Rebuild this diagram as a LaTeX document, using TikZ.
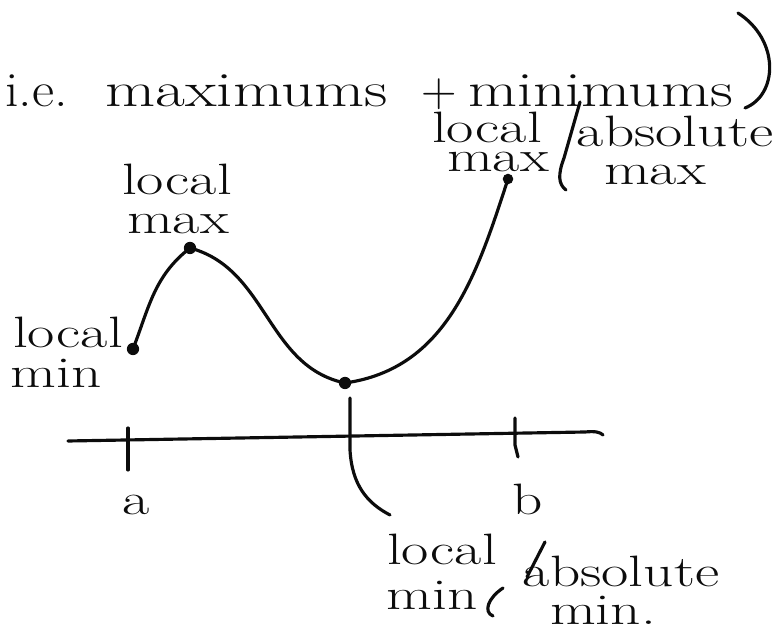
\documentclass[tikz,border=0pt]{standalone}
\usepackage{graphicx}
\usepackage{tikz}
\usetikzlibrary{positioning}
\definecolor{inkblack}{RGB}{12,12,12}
\newcommand{\scrawl}[1]{\scalebox{1.35}[1]{#1}}

\begin{document}
\begin{tikzpicture}[x=0.02cm, y=0.02cm,
  hand/.style={font=\fontsize{25}{29}\selectfont, text=inkblack, inner sep=0pt, anchor=base},
  headw/.style={font=\fontsize{28}{32}\selectfont, text=inkblack, inner sep=0pt, anchor=base west},
  pt/.style={circle, fill=inkblack, minimum size=7pt, inner sep=0pt},
  ink/.style={line width=1.8pt, draw=inkblack, line cap=round, line join=round}
]
  \useasboundingbox (0,0) rectangle (775,-634);
  % heading
  \node[headw] (head1) at (5,-107) {\scalebox{1.1}[1]{i.e.}};
  \node[headw] (head2) at (105,-107) {\scalebox{1.32}[1]{maximums}};
  \node[headw] (head3) at (421,-107) {+};
  \node[headw] (head4) at (468,-107) {\scalebox{1.29}[1]{minimums}};
  \draw[ink] (738,-13) .. controls (780,-40) and (778,-95) .. (745,-108);

  % the function and its extrema
  \node[pt] (p0) at (133,-349) {};
  \node[pt] (p1) at (190,-248) {};
  \node[pt] (p2) at (345,-383) {};
  \node[pt, minimum size=6pt] (p3) at (508,-179) {};
  \draw[ink] (p0.center) to[out=69,in=218] (p1.center) to[out=-15,in=168] (p2.center)
    to[out=8,in=252] (p3.center);

  % axis with a and b
  \coordinate (axl) at (68,-441);
  \coordinate (axr) at (603,-435);
  \draw[ink] (axl) -- (585,-432) .. controls (595,-431) and (600,-432) .. (axr);
  \coordinate (ta) at (128,-440);
  \coordinate (tb) at (515,-433);
  \draw[ink] (ta) ++(0,12) -- ++(0,-42);
  \draw[ink] (tb) ++(0,15) -- ++(0,-27) -- ++(3,-12);
  \node[hand] (a) at (136,-515) {\scrawl{a}};
  \node[hand] (b) at (528,-515) {\scrawl{b}};

  % labels
  \node[hand] (lmin1) at (68,-348) {\scrawl{local}};
  \node[hand] (lmin2) at (56,-388) {\scrawl{min}};
  \node[hand] (lmax1) at (177,-195) {\scrawl{local}};
  \node[hand] (lmax2) at (178,-234) {\scrawl{max}};
  \node[hand] (rmax1) at (487,-143) {\scrawl{local}};
  \node[hand] (rmax2) at (498,-172) {\scrawl{max}};
  \node[hand] (rabs1) at (675,-147) {\scrawl{absolute}};
  \node[hand] (rabs2) at (655,-185) {\scrawl{max}};
  \draw[ink] (580,-102) -- (564,-158) .. controls (558,-174) and (558,-184) .. (566,-190);

  \coordinate (minfoot) at (350,-398);
  \coordinate (minend) at (390,-515);
  \draw[ink] (minfoot) -- (350,-450) .. controls (352,-485) and (367,-503) .. (minend);
  \node[hand] (bmin1) at (442,-565) {\scrawl{local}};
  \node[hand] (bmin2) at (432,-610) {\scrawl{min}};
  \node[hand] (babs1) at (621,-587) {\scrawl{absolute}};
  \node[hand] (babs2) at (603,-625) {\scrawl{min.}};
  \draw[ink] (545,-542) -- (527,-577);
  \draw[ink] (503,-588) .. controls (488,-598) and (483,-612) .. (493,-616);
\end{tikzpicture}
\end{document}
